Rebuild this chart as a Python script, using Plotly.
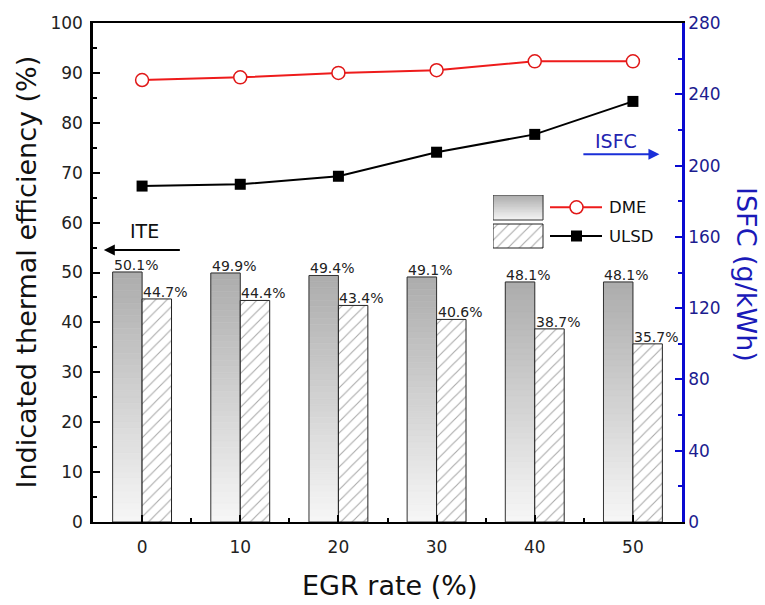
import plotly.graph_objects as go

# ---------------- data ----------------
egr = [0, 10, 20, 30, 40, 50]
ite_dme = [50.1, 49.9, 49.4, 49.1, 48.1, 48.1]
ite_ulsd = [44.7, 44.4, 43.4, 40.6, 38.7, 35.7]
isfc_dme = [248.0, 249.5, 252.0, 253.5, 258.5, 258.5]
isfc_ulsd = [188.5, 189.5, 194.0, 207.5, 217.5, 236.0]
x_ticks = [0, 10, 20, 30, 40, 50]
series_names = ["DME", "ULSD"]

FONT = "DejaVu Sans, Verdana, sans-serif"
BLUE = "#0a0ad0"
NAVY = "#1c1c8f"
HATCH = dict(shape="/", fgcolor="#555555", bgcolor="white", size=8, solidity=0.14)

# plot-area geometry in pixels (for paper-coordinate placement of decorations)
PL, PR, PT, PB = 93, 682, 23, 522
def px(xp):
    return (xp - PL) / (PR - PL)
def py(yp):
    return (PB - yp) / (PB - PT)

fig = go.Figure()

# gradient DME bars (stacked slices, dark at top, light at bottom)
N = 40
def gray(frac):
    g = int(round(247 - (247 - 172) * frac))
    return f"rgb({g},{g},{g})"

for k in range(N):
    c = gray((k + 0.5) / N)
    fig.add_bar(x=egr, y=[v / N for v in ite_dme], base=[v * k / N for v in ite_dme],
                offset=-3, width=3, marker=dict(color=c, line=dict(color=c, width=0.6)),
                showlegend=False, hoverinfo="skip")
fig.add_bar(x=egr, y=ite_dme, offset=-3, width=3,
            marker=dict(color="rgba(0,0,0,0)", line=dict(color="#333333", width=1)),
            showlegend=False, name=series_names[0])

# hatched ULSD bars
fig.add_bar(x=egr, y=ite_ulsd, offset=0, width=3,
            marker=dict(color="white", line=dict(color="#222222", width=1), pattern=HATCH),
            showlegend=False, name=series_names[1])

# ISFC lines (right axis)
fig.add_scatter(x=egr, y=isfc_dme, yaxis="y2", mode="lines+markers",
                line=dict(color="#ee1b1b", width=2),
                marker=dict(symbol="circle", size=13, color="white",
                            line=dict(color="#e01818", width=1.5)),
                showlegend=False, name=series_names[0])
fig.add_scatter(x=egr, y=isfc_ulsd, yaxis="y2", mode="lines+markers",
                line=dict(color="black", width=2),
                marker=dict(symbol="square", size=11, color="black"),
                showlegend=False, name=series_names[1])

# value labels above bars
for i, x in enumerate(egr):
    fig.add_annotation(x=x - 3, y=ite_dme[i], text=f"{ite_dme[i]:.1f}%", xanchor="left",
                       yanchor="bottom", showarrow=False, xshift=-1, yshift=-3,
                       font=dict(family=FONT, size=14, color="#222"))
    fig.add_annotation(x=x, y=ite_ulsd[i], text=f"{ite_ulsd[i]:.1f}%", xanchor="left",
                       yanchor="bottom", showarrow=False, xshift=-1, yshift=-3,
                       font=dict(family=FONT, size=14, color="#222"))

# ---------------- custom legend (drawn in an auxiliary axis) ----------------
for k in range(N):
    c = gray((k + 0.5) / N)
    fig.add_bar(x=[25], y=[25 / N], base=[29 + 25 * k / N], width=[50], xaxis="x3", yaxis="y3",
                marker=dict(color=c, line=dict(color=c, width=0.6)), showlegend=False, hoverinfo="skip")
fig.add_bar(x=[25], y=[25], base=[29], width=[50], xaxis="x3", yaxis="y3",
            marker=dict(color="rgba(0,0,0,0)", line=dict(color="#333", width=1)),
            showlegend=False, hoverinfo="skip")
fig.add_bar(x=[25], y=[24], base=[1], width=[50], xaxis="x3", yaxis="y3",
            marker=dict(color="white", line=dict(color="#222", width=1), pattern=HATCH),
            showlegend=False, hoverinfo="skip")
fig.add_scatter(x=[57, 109], y=[41.7, 41.7], xaxis="x3", yaxis="y3", mode="lines",
                line=dict(color="#ee1b1b", width=2), showlegend=False, hoverinfo="skip")
fig.add_scatter(x=[83.5], y=[41.7], xaxis="x3", yaxis="y3", mode="markers",
                marker=dict(symbol="circle", size=13, color="white", line=dict(color="#e01818", width=1.5)),
                showlegend=False, hoverinfo="skip")
fig.add_scatter(x=[57, 109], y=[13, 13], xaxis="x3", yaxis="y3", mode="lines",
                line=dict(color="black", width=2), showlegend=False, hoverinfo="skip")
fig.add_scatter(x=[83.5], y=[13], xaxis="x3", yaxis="y3", mode="markers",
                marker=dict(symbol="square", size=11, color="black"),
                showlegend=False, hoverinfo="skip")
for name, yp in zip(series_names, [207.3, 236]):
    fig.add_annotation(x=px(607), y=py(yp), xref="paper", yref="paper", text=name, xanchor="left",
                       yanchor="middle", showarrow=False, font=dict(family=FONT, size=16.5, color="#111"))

# arrows
fig.add_annotation(x=-3.9, y=54.5, ax=4.0, ay=54.5, axref="x", ayref="y", xref="x", yref="y",
                   text="", showarrow=True, arrowhead=2, arrowsize=1.1, arrowwidth=2, arrowcolor="black")
fig.add_annotation(x=0.25, y=58.3, text="ITE", showarrow=False,
                   font=dict(family=FONT, size=19, color="#111"))
fig.add_annotation(x=52.7, y=73.7, ax=44.8, ay=73.7, axref="x", ayref="y", xref="x", yref="y",
                   text="", showarrow=True, arrowhead=2, arrowsize=1.1, arrowwidth=2, arrowcolor="#1a2fd8")
fig.add_annotation(x=48.3, y=76.4, text="ISFC", showarrow=False,
                   font=dict(family=FONT, size=19, color="#2424b0"))

# axis titles
fig.add_annotation(x=px(26), y=0.5, xref="paper", yref="paper", xanchor="center", yanchor="middle",
                   text="Indicated thermal efficiency (%)", textangle=-90, showarrow=False,
                   font=dict(family=FONT, size=27, color="#111"))
fig.add_annotation(x=px(747), y=py(274), xref="paper", yref="paper", xanchor="center", yanchor="middle",
                   text="ISFC (g/kWh)", textangle=90, showarrow=False,
                   font=dict(family=FONT, size=27, color="#1a1ab8"))
fig.add_annotation(x=px(389), y=py(585), xref="paper", yref="paper", xanchor="center", yanchor="middle",
                   text="EGR rate (%)", showarrow=False,
                   font=dict(family=FONT, size=27, color="#111"))

fig.update_layout(
    width=765, height=605,
    margin=dict(l=PL, r=765 - PR, t=PT, b=605 - PB),
    paper_bgcolor="white", plot_bgcolor="white",
    barmode="overlay", showlegend=False,
    font=dict(family=FONT, color="#222"),
    xaxis=dict(range=[-5, 55], tickvals=x_ticks, ticks="inside", ticklen=7, tickwidth=2,
               tickcolor="black", showline=True, linewidth=2, linecolor="black", mirror=True,
               showgrid=False, zeroline=False, tickfont=dict(size=17, color="#222"),
               ticklabelstandoff=9,
               minor=dict(tickvals=[5, 15, 25, 35, 45], ticks="inside", ticklen=4, tickwidth=1.5,
                          tickcolor="black")),
    yaxis=dict(range=[0, 100], dtick=10, ticks="inside", ticklen=7, tickwidth=2, tickcolor="black",
               showline=True, linewidth=2.5, linecolor="black", showgrid=False, zeroline=False,
               tickfont=dict(size=17, color="#222"), ticklabelstandoff=4,
               minor=dict(dtick=5, ticks="inside", ticklen=4, tickwidth=1.5, tickcolor="black")),
    yaxis2=dict(range=[0, 280], dtick=40, overlaying="y", side="right", ticks="inside", ticklen=7,
                tickwidth=2, tickcolor=BLUE, showline=True, linewidth=2.5, linecolor=BLUE,
                showgrid=False, zeroline=False, tickfont=dict(size=17, color=NAVY),
                minor=dict(dtick=20, ticks="inside", ticklen=4, tickwidth=1.5, tickcolor=BLUE)),
    xaxis3=dict(domain=[px(493), px(602)], range=[0, 109], anchor="y3",
                visible=False, fixedrange=True),
    yaxis3=dict(domain=[py(249), py(195)], range=[0, 54], anchor="x3",
                visible=False, fixedrange=True),
)

fig.write_html("out.html")
